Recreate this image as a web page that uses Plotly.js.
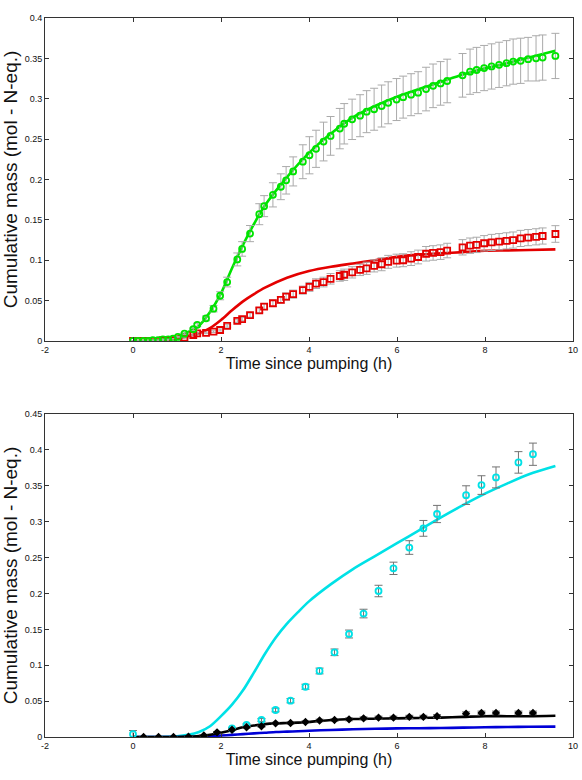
<!DOCTYPE html>
<html>
<head>
<meta charset="utf-8">
<script src="https://cdn.plot.ly/plotly-3.0.1.min.js"></script>
<style>
  html, body { margin: 0; padding: 0; background: #fff; }
  #chart { width: 582px; height: 780px; }
</style>
</head>
<body>
<div id="chart"></div>
<script>
// ---- Upper panel: measured cumulative mass (symbols) and model (lines) ----
const topTime = [0, 0.11, 0.23, 0.34, 0.45, 0.57, 0.68, 0.80, 0.91, 1.02, 1.17, 1.37, 1.46, 1.66, 1.83, 1.98,
  2.14, 2.37, 2.48, 2.66, 2.87, 2.98, 3.18, 3.36, 3.48, 3.64, 3.86, 4.01, 4.16, 4.33, 4.49, 4.70, 4.80,
  4.98, 5.16, 5.31, 5.48, 5.65, 5.80, 5.99, 6.14, 6.32, 6.48, 6.66, 6.82, 6.99, 7.14, 7.49, 7.66, 7.81,
  7.98, 8.15, 8.32, 8.49, 8.64, 8.81, 8.98, 9.16, 9.31, 9.60];

const greenObs = [0, 0, 0, 0, 0.001, 0.001, 0.002, 0.002, 0.003, 0.005, 0.009, 0.0145, 0.020, 0.028, 0.040, 0.056,
  0.073, 0.101, 0.114, 0.133, 0.157, 0.167, 0.181, 0.191, 0.199, 0.210, 0.222, 0.230, 0.238, 0.247, 0.254, 0.263, 0.269,
  0.2745, 0.279, 0.284, 0.287, 0.291, 0.295, 0.299, 0.302, 0.305, 0.3075, 0.312, 0.316, 0.319, 0.322, 0.329, 0.3335, 0.3356,
  0.338, 0.340, 0.342, 0.344, 0.346, 0.347, 0.349, 0.350, 0.351, 0.353];

const greenErr = [0, 0, 0, 0, 0, 0, 0, 0, 0, 0.0005, 0.001, 0.0015, 0.002, 0.003, 0.004, 0.005,
  0.006, 0.008, 0.009, 0.010, 0.013, 0.013, 0.015, 0.016, 0.017, 0.018, 0.021, 0.023, 0.023, 0.024, 0.024, 0.025, 0.025,
  0.025, 0.026, 0.026, 0.026, 0.026, 0.026, 0.026, 0.026, 0.026, 0.026, 0.027, 0.027, 0.027, 0.027, 0.027, 0.028, 0.028,
  0.028, 0.028, 0.028, 0.028, 0.028, 0.028, 0.027, 0.028, 0.028, 0.028];

const redObs = [0, 0, 0, 0, 0, 0, 0.001, 0.001, 0.001, 0.002, 0.004, 0.0074, 0.0095, 0.010, 0.0116, 0.0136,
  0.0186, 0.025, 0.027, 0.032, 0.038, 0.0425, 0.0467, 0.051, 0.055, 0.058, 0.063, 0.067, 0.071, 0.073, 0.077, 0.0805, 0.082,
  0.085, 0.088, 0.090, 0.093, 0.095, 0.098, 0.0995, 0.100, 0.102, 0.104, 0.108, 0.109, 0.110, 0.112, 0.116, 0.118, 0.119,
  0.121, 0.122, 0.123, 0.124, 0.125, 0.127, 0.128, 0.129, 0.130, 0.1325];

const redErr = [0, 0, 0, 0, 0, 0, 0, 0, 0, 0, 0.0005, 0.0008, 0.001, 0.001, 0.001, 0.0012,
  0.0015, 0.002, 0.002, 0.0025, 0.003, 0.0035, 0.004, 0.004, 0.0045, 0.005, 0.005, 0.0055, 0.006, 0.006, 0.0065, 0.0065, 0.007,
  0.007, 0.007, 0.0075, 0.0075, 0.008, 0.008, 0.008, 0.008, 0.0085, 0.0085, 0.009, 0.009, 0.009, 0.009, 0.0095, 0.0095, 0.0095,
  0.0095, 0.010, 0.010, 0.010, 0.010, 0.010, 0.010, 0.010, 0.010, 0.0103];

const topModelTime = [0, 0.5, 1.0, 1.25, 1.5, 1.75, 2.0, 2.25, 2.5, 2.75, 3.0, 3.5, 4.0, 4.5, 5.0, 5.5, 6.0,
  6.5, 7.0, 7.5, 8.0, 8.5, 9.0, 9.6];
const greenModel = [0, 0.001, 0.005, 0.011, 0.019, 0.036, 0.059, 0.090, 0.119, 0.145, 0.168, 0.203, 0.233, 0.257,
  0.277, 0.291, 0.3025, 0.312, 0.321, 0.330, 0.3376, 0.344, 0.351, 0.3595];
const redModel = [0, 0, 0.003, 0.006, 0.0095, 0.016, 0.026, 0.038, 0.049, 0.058, 0.066, 0.0784, 0.0867, 0.092,
  0.096, 0.100, 0.1044, 0.107, 0.1086, 0.110, 0.1118, 0.1122, 0.1127, 0.1135];

// ---- Lower panel ----
const botTime = [0, 0.24, 0.58, 0.92, 1.26, 1.61, 1.91, 2.25, 2.58, 2.92, 3.24, 3.58, 3.92, 4.24, 4.58, 4.91,
  5.24, 5.58, 5.92, 6.28, 6.60, 6.91, 7.57, 7.92, 8.25, 8.76, 9.09];

const cyanObs = [0.004, null, null, null, null, null, null, 0.012, 0.0167, 0.0237, 0.0376, 0.0506, 0.070, 0.092, 0.118, 0.1435,
  0.172, 0.2034, 0.235, 0.264, 0.2907, 0.3107, 0.337, 0.351, 0.3617, 0.3826, 0.394];
const cyanErr = [0.005, null, null, null, null, null, null, 0.001, 0.0015, 0.002, 0.0025, 0.003, 0.0035, 0.004, 0.0046, 0.0055,
  0.006, 0.008, 0.0086, 0.0095, 0.011, 0.012, 0.013, 0.013, 0.0146, 0.015, 0.0155];

const blackObs = [null, 0, 0, 0, 0.0005, 0.002, 0.0065, 0.010, 0.0135, 0.015, 0.019, 0.0195, 0.021, 0.023, 0.0237, 0.0246,
  0.026, 0.027, 0.027, 0.028, 0.028, 0.029, 0.0325, 0.0336, 0.0336, 0.0336, 0.0336];
const blackErr = [null, 0, 0, 0, 0, 0.0005, 0.001, 0.001, 0.0012, 0.0012, 0.0015, 0.0015, 0.0015, 0.0018, 0.0018, 0.002,
  0.002, 0.002, 0.002, 0.0022, 0.0022, 0.0022, 0.0025, 0.0025, 0.0025, 0.0025, 0.0025];

const botModelTime = [0, 0.5, 1.0, 1.25, 1.5, 1.75, 2.0, 2.25, 2.5, 2.75, 3.0, 3.25, 3.5, 3.75, 4.0, 4.5, 5.0,
  5.5, 6.0, 6.5, 7.0, 7.5, 8.0, 8.5, 9.0, 9.6];
const cyanModel = [0, 0, 0.001, 0.003, 0.007, 0.015, 0.029, 0.045, 0.065, 0.090, 0.116, 0.139, 0.158, 0.174, 0.189,
  0.213, 0.234, 0.252, 0.270, 0.288, 0.306, 0.323, 0.339, 0.353, 0.366, 0.3775];
const blackModel = [0, 0, 0, 0.0005, 0.0015, 0.003, 0.006, 0.0095, 0.0135, 0.016, 0.018, 0.019, 0.0195, 0.020, 0.021,
  0.0237, 0.025, 0.0255, 0.026, 0.0265, 0.027, 0.028, 0.029, 0.029, 0.029, 0.0297];
const blueModel = [0, 0, 0, 0, 0.0005, 0.001, 0.002, 0.003, 0.004, 0.005, 0.006, 0.007, 0.0075, 0.008, 0.0088,
  0.0098, 0.0107, 0.0114, 0.012, 0.0122, 0.0125, 0.013, 0.0135, 0.014, 0.0142, 0.0144];

const xTickVals = [-2, 0, 2, 4, 6, 8, 10];
const xTickText = ['-2', '0', '2', '4', '6', '8', '10'];
const yTopTicks = [0, 0.05, 0.1, 0.15, 0.2, 0.25, 0.3, 0.35, 0.4];
const yBotTicks = [0, 0.05, 0.1, 0.15, 0.2, 0.25, 0.3, 0.35, 0.4, 0.45];

const GREEN = 'rgb(0,228,0)';
const RED = 'rgb(228,0,0)';
const CYAN = 'rgb(0,225,230)';
const BLUE = 'rgb(0,0,215)';
const BLACK = 'rgb(0,0,0)';
const ERR_LIGHT = 'rgb(170,170,170)';
const ERR_DARK = 'rgb(115,115,115)';

function modelLine(x, y, color, xa, ya) {
  return { x: x, y: y, xaxis: xa, yaxis: ya, type: 'scatter', mode: 'lines',
    line: { color: color, width: 2.6, shape: 'spline', smoothing: 0.8 }, showlegend: false };
}
function observed(x, y, err, color, errColor, symbol, size, xa, ya) {
  return { x: x, y: y, xaxis: xa, yaxis: ya, type: 'scatter', mode: 'markers',
    marker: { symbol: symbol, size: size, color: color, line: { color: color, width: 1.8 } },
    error_y: { type: 'data', array: err, visible: true, color: errColor, thickness: 1, width: 4 },
    showlegend: false };
}

const traces = [
  modelLine(topModelTime, redModel, RED, 'x', 'y'),
  modelLine(topModelTime, greenModel, GREEN, 'x', 'y'),
  observed(topTime, redObs, redErr, RED, ERR_LIGHT, 'square-open', 6, 'x', 'y'),
  observed(topTime, greenObs, greenErr, GREEN, ERR_LIGHT, 'circle-open', 6, 'x', 'y'),

  modelLine(botModelTime, cyanModel, CYAN, 'x2', 'y2'),
  modelLine(botModelTime, blueModel, BLUE, 'x2', 'y2'),
  modelLine(botModelTime, blackModel, BLACK, 'x2', 'y2'),
  observed(botTime, cyanObs, cyanErr, CYAN, ERR_DARK, 'circle-open', 6, 'x2', 'y2'),
  observed(botTime, blackObs, blackErr, BLACK, ERR_DARK, 'diamond', 4.5, 'x2', 'y2')
];

const tickFont = { family: 'Liberation Sans, Arial, sans-serif', size: 9, color: '#111' };
const titleFont = { family: 'Liberation Sans, Arial, sans-serif', size: 16, color: '#111' };
const yTitleFont = { family: 'Liberation Sans, Arial, sans-serif', size: 19, color: '#111' };

function xAxis(anchor) {
  return { anchor: anchor, range: [-2, 10], tickmode: 'array', tickvals: xTickVals, ticktext: xTickText,
    ticks: 'inside', ticklen: 4, tickcolor: '#333', showline: true, linecolor: '#333', linewidth: 1,
    mirror: 'ticks', showgrid: false, zeroline: false, tickfont: tickFont,
    title: { text: 'Time since pumping (h)', font: titleFont, standoff: 4 } };
}
function yAxis(anchor, domain, range, ticks) {
  return { anchor: anchor, domain: domain, range: range, tickmode: 'array', tickvals: ticks,
    ticks: 'inside', ticklen: 4, tickcolor: '#333', showline: true, linecolor: '#333', linewidth: 1,
    mirror: 'ticks', showgrid: false, zeroline: false, tickfont: tickFont,
    title: { text: 'Cumulative mass (mol - N-eq.)', font: yTitleFont, standoff: 2 } };
}

const layout = {
  width: 582, height: 780,
  margin: { l: 45, r: 9, t: 18, b: 43 },
  paper_bgcolor: '#fff', plot_bgcolor: '#fff',
  xaxis: xAxis('y'),
  yaxis: yAxis('x', [0.5508, 1], [0, 0.4], yTopTicks),
  xaxis2: xAxis('y2'),
  yaxis2: yAxis('x2', [0, 0.4492], [0, 0.45], yBotTicks),
  showlegend: false
};

Plotly.newPlot('chart', traces, layout, { staticPlot: true, displayModeBar: false });
</script>
</body>
</html>
